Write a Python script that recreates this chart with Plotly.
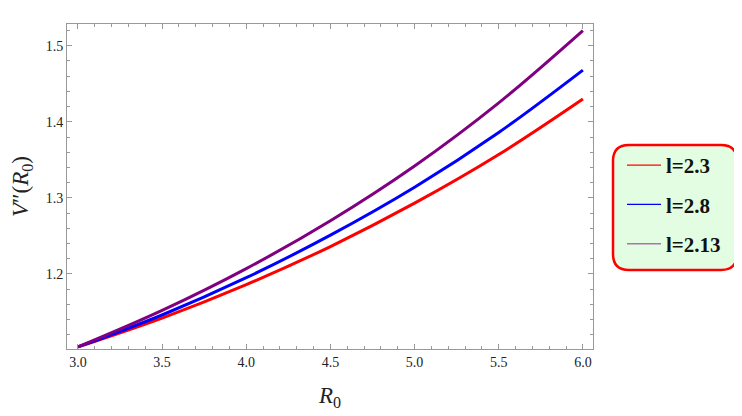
import plotly.graph_objects as go

R0 = [3.0, 3.5, 4.0, 4.5, 5.0, 5.5, 6.0]
v_l23 = [1.104, 1.142, 1.186, 1.236, 1.293, 1.357, 1.430]
v_l28 = [1.104, 1.146, 1.195, 1.251, 1.314, 1.386, 1.468]
v_l213 = [1.104, 1.152, 1.207, 1.270, 1.342, 1.425, 1.520]
labels = ["l=2.3", "l=2.8", "l=2.13"]
colors = ["#ff0000", "#0000ff", "#800080"]
legend_colors = ["#ff0000", "#0000ff", "rgba(128,0,128,0.55)"]

SERIF = "Liberation Serif, Times New Roman, serif"

fig = go.Figure()
for ys, c in zip([v_l23, v_l28, v_l213], colors):
    fig.add_trace(go.Scatter(x=R0, y=ys, mode="lines", line=dict(color=c, width=3, shape="spline", smoothing=1.0),
                             showlegend=False, hoverinfo="skip"))
for i, (lab, c) in enumerate(zip(labels, legend_colors)):
    fig.add_trace(go.Scatter(x=[None], y=[None], mode="lines", name=lab, legendgroup=str(i),
                             line=dict(color=c, width=1.3)))

# page body has an 8px margin, compensate so the plot area lands at x 67..593, y 24..349
OFF = 8
L, T = 67 - OFF, 24 - OFF
PW, PH = 526, 325
R, B = 742 - L - PW, 416 - T - PH

def px_x(x):
    return (x - OFF - L) / PW

def px_y(y):
    return (T + PH - (y - OFF)) / PH

axis_common = dict(showgrid=False, zeroline=False, showline=True, linecolor="#999999", linewidth=1,
                   mirror="allticks", ticks="inside", ticklen=5, tickcolor="#999999", automargin=False,
                   tickfont=dict(family=SERIF, size=14, color="#222222"))
fig.update_xaxes(range=[2.935, 6.06], tickvals=[3.0, 3.5, 4.0, 4.5, 5.0, 5.5, 6.0],
                 ticktext=["3.0", "3.5", "4.0", "4.5", "5.0", "5.5", "6.0"],
                 minor=dict(dtick=0.1, tick0=3.0, ticks="inside", ticklen=3, tickcolor="#999999"),
                 title=dict(text="<i>R</i><sub>0</sub>", font=dict(family=SERIF, size=23, color="#222222"),
                            standoff=18),
                 **axis_common)
fig.update_yaxes(range=[1.1013, 1.5286], tickvals=[1.2, 1.3, 1.4, 1.5],
                 ticktext=["1.2", "1.3", "1.4", "1.5"],
                 minor=dict(dtick=0.02, tick0=1.1, ticks="inside", ticklen=3, tickcolor="#999999"),
                 title=dict(text="<i>V</i>″(<i>R</i><sub>0</sub>)", font=dict(family=SERIF, size=23, color="#222222"),
                            standoff=19),
                 **axis_common)

# rounded legend frame (pixel-sized, anchored at paper coords)
w, h, r = 124, 125, 16
path = (f"M{r},0 L{w-r},0 Q{w},0 {w},{-r} L{w},{-(h-r)} Q{w},{-h} {w-r},{-h} "
        f"L{r},{-h} Q0,{-h} 0,{-(h-r)} L0,{-r} Q0,0 {r},0 Z")
fig.add_shape(type="path", xref="paper", yref="paper", xsizemode="pixel", ysizemode="pixel",
              xanchor=px_x(613), yanchor=px_y(145), path=path,
              fillcolor="#e2fde2", line=dict(color="#ff0000", width=2.5), layer="below")

fig.update_layout(
    width=742, height=416,
    margin=dict(l=L, r=R, t=T, b=B, autoexpand=False),
    paper_bgcolor="white", plot_bgcolor="white",
    font=dict(family=SERIF),
    legend=dict(x=px_x(622), y=px_y(145), xanchor="left", yanchor="top",
                bgcolor="rgba(0,0,0,0)", borderwidth=0, tracegroupgap=9, itemwidth=34,
                font=dict(family=SERIF, size=21, color="#111111", weight="bold")),
)

fig.write_html("out.html")
